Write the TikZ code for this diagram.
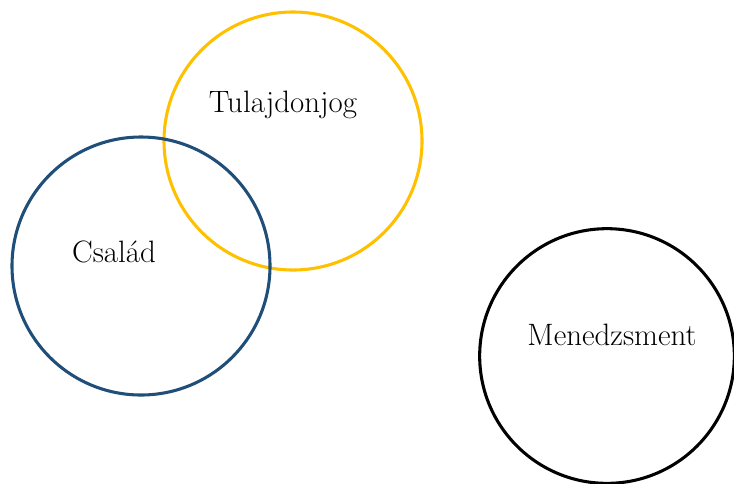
\documentclass[tikz,border=0pt]{standalone}
\usepackage{tikz}
\usetikzlibrary{positioning}
\usepackage{xcolor}
\definecolor{famblue}{HTML}{1F4E79}
\definecolor{owngold}{HTML}{FFC000}

\begin{document}
\begin{tikzpicture}[
    x=0.75pt, y=-0.75pt,
    font=\fontsize{23.2}{27}\selectfont,
    ring/.style={draw, circle, line width=2.3pt, inner sep=0pt, minimum size=193.5pt},
    lbl/.style={anchor=base, inner sep=0pt}
  ]
    \useasboundingbox (0,0) rectangle (734,483);
    \node[ring, draw=owngold] (own) at (293,141) {};
    \node[ring, draw=famblue] (fam) at (141,266) {};
    \node[ring, draw=black, minimum size=191pt] (mgmt) at (607,356) {};
    \node[lbl] (ownlbl) at (283,112) {Tulajdonjog};
    \node[lbl] (famlbl) at (114,262) {Család};
    \node[lbl] (mgmtlbl) at (612,345) {Menedzsment};
  \end{tikzpicture}
\end{document}
